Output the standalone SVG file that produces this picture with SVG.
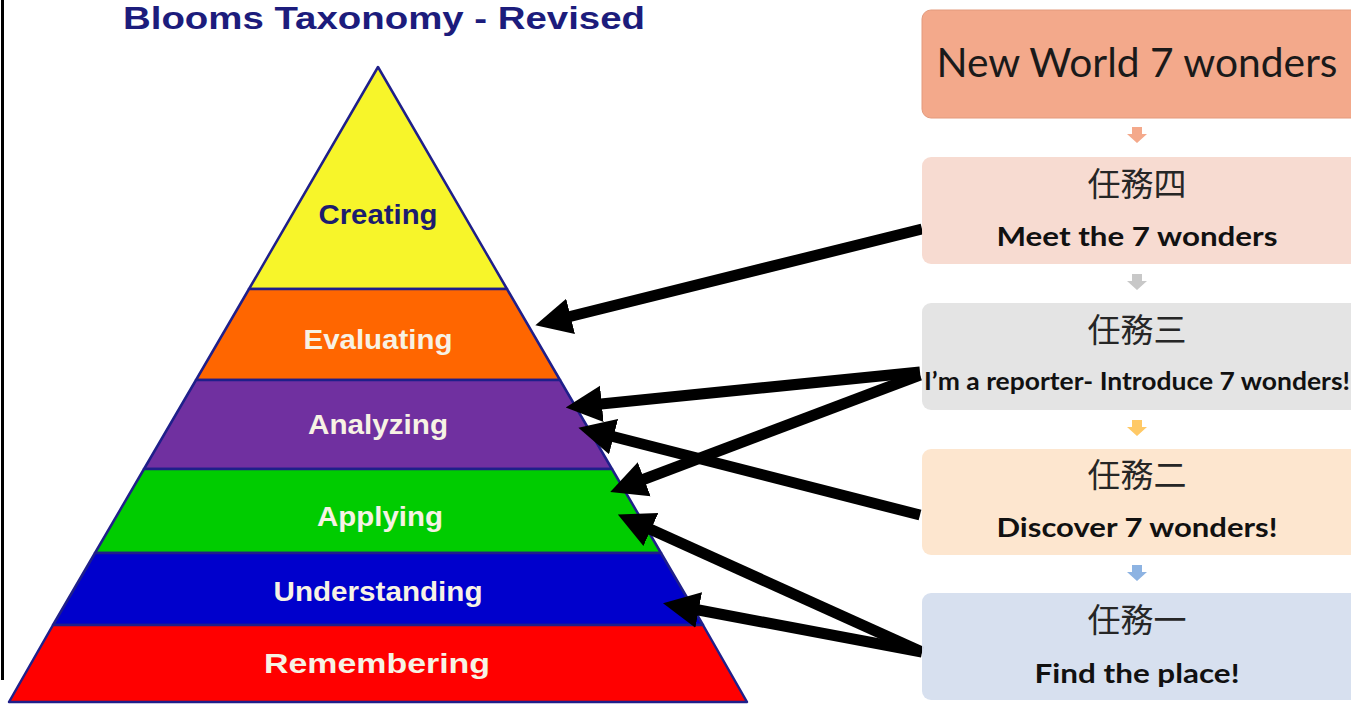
<svg xmlns="http://www.w3.org/2000/svg" width="1351" height="704" viewBox="0 0 1351 704">
<style>
.pt{font-family:"Liberation Sans",Arial,sans-serif;font-weight:bold;text-anchor:middle;fill:#f7f2e4}
.cn{font-family:"Noto Sans CJK TC","Noto Sans CJK SC",sans-serif;font-size:33px;fill:#262626;text-anchor:middle}
.en{font-family:Lato,"Open Sans",sans-serif;font-weight:bold;font-size:27px;fill:#111;text-anchor:middle}
.conn line{stroke:#000;stroke-width:11;marker-end:url(#ah)}
</style>
<defs>
<marker id="ah" viewBox="0 0 10 10" refX="3" refY="5" markerWidth="3.3" markerHeight="3.5" orient="auto" markerUnits="strokeWidth">
<path d="M0,0 L10,5 L0,10 z" fill="#000"/>
</marker>
</defs>
<rect width="1351" height="704" fill="#fff"/>
<line x1="2.5" y1="0" x2="2.5" y2="680" stroke="#000" stroke-width="3"/>
<text x="384" y="29" font-family="Liberation Sans,Arial,sans-serif" font-weight="bold" font-size="32" fill="#1c1c7c" text-anchor="middle" textLength="522" lengthAdjust="spacingAndGlyphs">Blooms Taxonomy - Revised</text>

<g id="pyramid" stroke="#1f1f8a" stroke-width="2.5" stroke-linejoin="round">
<polygon id="creating" points="378,67 507,289 249,289" fill="#f7f52a"/>
<polygon id="evaluating" points="249,289 507,289 560,380 196,380" fill="#ff6600"/>
<polygon id="analyzing" points="196,380 560,380 612,469 144,469" fill="#7030a0"/>
<polygon id="applying" points="144,469 612,469 661,553 95,553" fill="#00cc00"/>
<polygon id="understanding" points="95,553 661,553 703,625 53,625" fill="#0000cc"/>
<polygon id="remembering" points="53,625 703,625 747,702 9,702" fill="#ff0000"/>
</g>
<text class="pt" x="378" y="224" font-size="28" style="fill:#1c1c6e" textLength="119" lengthAdjust="spacingAndGlyphs">Creating</text>
<text class="pt" x="378" y="349" font-size="28" textLength="149" lengthAdjust="spacingAndGlyphs">Evaluating</text>
<text class="pt" x="378" y="434" font-size="28" textLength="140" lengthAdjust="spacingAndGlyphs">Analyzing</text>
<text class="pt" x="380" y="526" font-size="28" textLength="126" lengthAdjust="spacingAndGlyphs">Applying</text>
<text class="pt" x="378" y="601" font-size="28" textLength="209" lengthAdjust="spacingAndGlyphs">Understanding</text>
<text class="pt" x="377" y="673" font-size="28" textLength="226" lengthAdjust="spacingAndGlyphs">Remembering</text>

<g id="small-arrows">
<path d="M1132,127 h10 v7 h5 l-10,9 l-10,-9 h5 z" fill="#f4a98b"/>
<path d="M1132,274 h10 v7 h5 l-10,9 l-10,-9 h5 z" fill="#c8c8c8"/>
<path d="M1132,420 h10 v7 h5 l-10,9 l-10,-9 h5 z" fill="#ffc966"/>
<path d="M1132,565 h10 v7 h5 l-10,9 l-10,-9 h5 z" fill="#8db3e2"/>
</g>

<g id="conn" class="conn">
<line x1="922" y1="229" x2="560" y2="319"/>
<line x1="920" y1="372" x2="591" y2="405"/>
<line x1="920" y1="375" x2="634" y2="483"/>
<line x1="920" y1="515" x2="603" y2="434"/>
<line x1="922" y1="652" x2="641" y2="525"/>
<line x1="922" y1="652" x2="688" y2="608"/>
</g>

<g id="box0">
<rect x="922" y="10" width="440" height="108" rx="9" fill="#f3a98b" stroke="#e39a7c"/>
<text x="1137" y="77" font-family="Lato,'Open Sans',sans-serif" font-size="40" fill="#1a1a1a" text-anchor="middle" textLength="401" lengthAdjust="spacingAndGlyphs">New World 7 wonders</text>
</g>
<g id="box4">
<rect x="922" y="157" width="440" height="107" rx="9" fill="#f7d9cf" fill-opacity="0.95"/>
<text class="cn" x="1137" y="196">任務四</text>
<text class="en" x="1137" y="246" textLength="281" lengthAdjust="spacingAndGlyphs">Meet the 7 wonders</text>
</g>
<g id="box3">
<rect x="922" y="303" width="440" height="107" rx="9" fill="#e3e3e3" fill-opacity="0.95"/>
<text class="cn" x="1137" y="342">任務三</text>
<text class="en" x="1137" y="390" style="font-size:24px" textLength="426" lengthAdjust="spacingAndGlyphs">I’m a reporter- Introduce 7 wonders!</text>
</g>
<g id="box2">
<rect x="922" y="449" width="440" height="106" rx="9" fill="#fde5cc" fill-opacity="0.95"/>
<text class="cn" x="1137" y="487">任務二</text>
<text class="en" x="1137" y="537" textLength="281" lengthAdjust="spacingAndGlyphs">Discover 7 wonders!</text>
</g>
<g id="box1">
<rect x="922" y="593" width="440" height="107" rx="9" fill="#d5deee" fill-opacity="0.95"/>
<text class="cn" x="1137" y="632">任務一</text>
<text class="en" x="1137" y="683" textLength="205" lengthAdjust="spacingAndGlyphs">Find the place!</text>
</g>
</svg>
